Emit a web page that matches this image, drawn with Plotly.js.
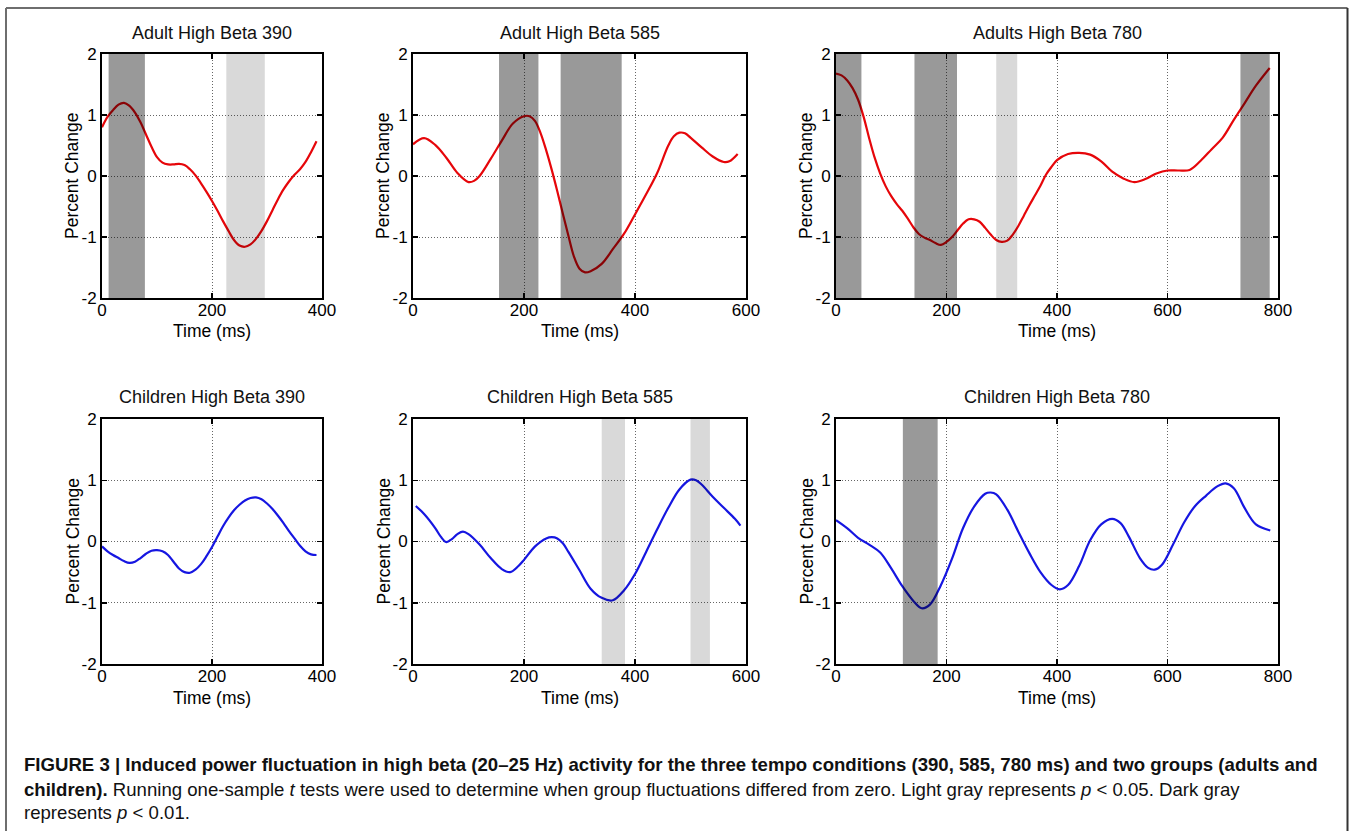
<!DOCTYPE html>
<html>
<head>
<meta charset="utf-8">
<script src="https://cdn.plot.ly/plotly-3.0.1.min.js"></script>
<style>
  html, body { margin: 0; padding: 0; background: #fff; }
  #chart { width: 1349px; height: 831px; }
</style>
</head>
<body>
<div id="chart"></div>
<script>
// ---------- Data ----------
const panelTitles = ['Adult High Beta 390', 'Adult High Beta 585', 'Adults High Beta 780',
                     'Children High Beta 390', 'Children High Beta 585', 'Children High Beta 780'];

const adult390Time   = [0,10,20,30,40,50,60,70,80,90,100,110,120,130,140,150,160,170,180,190,200,210,220,230,240,250,260,270,280,290,300,310,320,330,340,350,360,370,380,390];
const adult390Values = [0.80,0.97,1.08,1.17,1.20,1.15,1.04,0.88,0.68,0.48,0.31,0.22,0.19,0.19,0.20,0.18,0.11,0.01,-0.12,-0.26,-0.41,-0.57,-0.74,-0.90,-1.05,-1.14,-1.16,-1.12,-1.03,-0.90,-0.74,-0.56,-0.38,-0.22,-0.09,0.02,0.11,0.23,0.39,0.57];
const adult390Dark  = [[12, 78]];
const adult390Light = [[226, 296]];

const adult585Time   = [0,20,40,60,80,100,110,120,140,160,180,200,210,220,230,240,250,260,270,280,290,300,310,320,340,360,380,400,420,440,460,470,480,490,500,520,540,560,570,585];
const adult585Values = [0.52,0.62,0.51,0.30,0.05,-0.10,-0.08,0.00,0.28,0.58,0.86,0.98,0.98,0.90,0.70,0.42,0.10,-0.25,-0.62,-0.98,-1.32,-1.52,-1.58,-1.56,-1.44,-1.20,-0.95,-0.63,-0.30,0.05,0.50,0.65,0.71,0.70,0.63,0.47,0.32,0.23,0.24,0.36];
const adult585Dark  = [[155, 226], [266, 376]];
const adult585Light = [];

const adult780Time   = [0,10,20,30,40,50,60,70,80,90,100,110,120,130,140,150,160,170,180,190,200,210,220,230,240,250,260,270,280,290,300,310,320,330,340,350,360,370,380,390,400,420,440,460,480,500,520,540,560,580,600,620,640,660,680,700,720,740,760,785];
const adult780Values = [1.68,1.65,1.57,1.44,1.25,0.97,0.62,0.30,0.04,-0.17,-0.33,-0.46,-0.57,-0.70,-0.84,-0.95,-1.01,-1.05,-1.10,-1.13,-1.08,-1.00,-0.89,-0.78,-0.71,-0.71,-0.75,-0.85,-0.96,-1.05,-1.08,-1.06,-0.96,-0.82,-0.65,-0.48,-0.32,-0.16,0.02,0.15,0.26,0.36,0.38,0.35,0.24,0.07,-0.04,-0.10,-0.05,0.04,0.09,0.09,0.10,0.25,0.44,0.63,0.92,1.20,1.48,1.77];
const adult780Dark  = [[0, 46], [142, 219], [732, 785]];
const adult780Light = [[290, 328]];

const child390Time   = [0,10,20,30,40,50,60,70,80,90,100,110,120,130,140,150,160,170,180,190,200,210,220,230,240,250,260,270,280,290,300,310,320,330,340,350,360,370,380,390];
const child390Values = [-0.08,-0.16,-0.22,-0.27,-0.32,-0.35,-0.33,-0.27,-0.20,-0.15,-0.14,-0.16,-0.22,-0.33,-0.44,-0.50,-0.51,-0.46,-0.37,-0.24,-0.09,0.08,0.25,0.39,0.51,0.60,0.67,0.71,0.72,0.69,0.62,0.53,0.42,0.30,0.17,0.05,-0.07,-0.16,-0.21,-0.22];
const child390Dark  = [];
const child390Light = [];

const child585Time   = [5,20,40,50,60,70,80,90,100,120,140,160,175,190,200,220,240,250,260,270,280,300,320,340,360,380,400,420,440,460,480,500,510,520,540,560,580,590];
const child585Values = [0.58,0.45,0.22,0.08,-0.01,0.04,0.12,0.16,0.12,-0.05,-0.27,-0.45,-0.50,-0.40,-0.30,-0.08,0.05,0.07,0.05,-0.03,-0.17,-0.47,-0.77,-0.92,-0.96,-0.80,-0.53,-0.17,0.20,0.55,0.85,1.01,1.00,0.93,0.73,0.55,0.37,0.26];
const child585Dark  = [];
const child585Light = [[340, 382], [500, 535]];

const child780Time   = [0,20,40,60,80,100,120,140,155,170,190,210,230,250,270,280,290,310,330,350,370,390,405,420,440,460,480,500,515,530,550,565,577,590,610,630,650,670,690,705,720,740,760,786];
const child780Values = [0.35,0.22,0.06,-0.05,-0.18,-0.44,-0.73,-0.97,-1.09,-1.03,-0.71,-0.28,0.22,0.57,0.78,0.80,0.77,0.52,0.16,-0.19,-0.50,-0.71,-0.78,-0.71,-0.40,0.02,0.28,0.37,0.30,0.08,-0.27,-0.43,-0.46,-0.38,-0.05,0.31,0.58,0.75,0.90,0.95,0.87,0.54,0.28,0.18];
const child780Dark  = [[121, 184]];
const child780Light = [];

const xTickValues = [[0,200,400], [0,200,400,600], [0,200,400,600,800]];
const yTickValues = [-2,-1,0,1,2];
const yTickLabels = ['-2','-1','0','1','2'];
const xAxisTitle = 'Time (ms)';
const yAxisTitle = 'Percent Change';

const captionLine1 = '<b>FIGURE 3 | Induced power fluctuation in high beta (20–25 Hz) activity for the three tempo conditions (390, 585, 780 ms) and two groups (adults and</b>';
const captionLine2 = '<b>children).</b> Running one-sample <i>t</i> tests were used to determine when group fluctuations differed from zero. Light gray represents <i>p</i> &lt; 0.05. Dark gray';
const captionLine3 = 'represents <i>p</i> &lt; 0.01.';

// ---------- Styling / layout ----------
const W = 1349, H = 831;
const RED = 'rgb(230,6,10)';
const BLUE = 'rgb(22,22,225)';
// translucent overlays (drawn over the curves, which darkens them inside the bands)
const DARK = 'rgba(0,0,0,0.40)';
const LIGHT = 'rgba(0,0,0,0.15)';
const FONT = 'Liberation Sans, Arial, Helvetica, sans-serif';

const colDomains = [[102/W, 322/W], [413/W, 746/W], [836/W, 1278/W]];
const rowDomains = [[1 - 298/H, 1 - 54/H], [1 - 664/H, 1 - 419/H]];
const rowTitleY = [33, 397];
const rowXTitleY = [331, 698];
const yTitleOffset = 30; // px left of the plot edge

const panels = [
  {x: adult390Time, y: adult390Values, color: RED,  dark: adult390Dark, light: adult390Light, col: 0, row: 0},
  {x: adult585Time, y: adult585Values, color: RED,  dark: adult585Dark, light: adult585Light, col: 1, row: 0},
  {x: adult780Time, y: adult780Values, color: RED,  dark: adult780Dark, light: adult780Light, col: 2, row: 0},
  {x: child390Time, y: child390Values, color: BLUE, dark: child390Dark, light: child390Light, col: 0, row: 1},
  {x: child585Time, y: child585Values, color: BLUE, dark: child585Dark, light: child585Light, col: 1, row: 1},
  {x: child780Time, y: child780Values, color: BLUE, dark: child780Dark, light: child780Light, col: 2, row: 1}
];

const traces = [];
const shapes = [];
const annotations = [];
const layout = {
  width: W, height: H,
  margin: {l: 0, r: 0, t: 0, b: 0},
  paper_bgcolor: '#fff', plot_bgcolor: '#fff',
  showlegend: false,
  font: {family: FONT, size: 17, color: '#000'}
};

panels.forEach((p, i) => {
  const n = i === 0 ? '' : String(i + 1);
  const xa = 'x' + n, ya = 'y' + n;
  traces.push({
    type: 'scatter', mode: 'lines', x: p.x, y: p.y,
    xaxis: xa, yaxis: ya,
    line: {color: p.color, width: 2.2, shape: 'spline', smoothing: 1},
    hoverinfo: 'skip'
  });
  const ticks = xTickValues[p.col];
  const axisCommon = {
    showline: true, linecolor: '#000', linewidth: 2, mirror: 'ticks',
    ticks: 'inside', ticklen: 5, tickwidth: 1.5, tickcolor: '#000',
    showgrid: true, gridcolor: 'rgba(0,0,0,0.6)', griddash: '1px,2px', gridwidth: 1,
    zeroline: false, fixedrange: true,
    tickfont: {family: FONT, size: 17, color: '#000'}
  };
  layout['xaxis' + n] = Object.assign({}, axisCommon, {
    domain: colDomains[p.col], anchor: ya,
    range: [0, ticks[ticks.length - 1]], tickvals: ticks,
    ticklabelstandoff: -4
  });
  layout['yaxis' + n] = Object.assign({}, axisCommon, {
    domain: rowDomains[p.row], anchor: xa,
    range: [-2, 2], tickvals: yTickValues, ticktext: yTickLabels,
    ticklabelstandoff: 0
  });
  p.dark.forEach(b => shapes.push({type: 'rect', xref: xa, yref: ya + ' domain', x0: b[0], x1: b[1], y0: 0, y1: 1,
    fillcolor: DARK, line: {width: 0}, layer: 'above'}));
  p.light.forEach(b => shapes.push({type: 'rect', xref: xa, yref: ya + ' domain', x0: b[0], x1: b[1], y0: 0, y1: 1,
    fillcolor: LIGHT, line: {width: 0}, layer: 'above'}));
  const d = colDomains[p.col];
  const r = rowDomains[p.row];
  // panel title
  annotations.push({
    text: panelTitles[i], xref: 'paper', yref: 'paper',
    x: (d[0] + d[1]) / 2, y: 1 - rowTitleY[p.row]/H,
    xanchor: 'center', yanchor: 'middle', showarrow: false,
    font: {family: FONT, size: 18, color: '#111'}
  });
  // x axis title
  annotations.push({
    text: xAxisTitle, xref: 'paper', yref: 'paper',
    x: (d[0] + d[1]) / 2, y: 1 - rowXTitleY[p.row]/H,
    xanchor: 'center', yanchor: 'middle', showarrow: false,
    font: {family: FONT, size: 17.5, color: '#000'}
  });
  // y axis title
  annotations.push({
    text: yAxisTitle, xref: 'paper', yref: 'paper', textangle: -90,
    x: d[0] - yTitleOffset/W, y: (r[0] + r[1]) / 2,
    xanchor: 'center', yanchor: 'middle', showarrow: false,
    font: {family: FONT, size: 17.5, color: '#000'}
  });
});

// Caption
[[captionLine1, 764], [captionLine2, 789], [captionLine3, 812]].forEach(c => {
  annotations.push({
    text: c[0], xref: 'paper', yref: 'paper', x: 22/W, y: 1 - c[1]/H,
    xanchor: 'left', yanchor: 'middle', showarrow: false, align: 'left',
    font: {family: FONT, size: 18.6, color: '#111'}
  });
});

// Outer frame of the figure
const FRAME = 'rgb(110,110,110)';
shapes.push({type: 'line', xref: 'paper', yref: 'paper', x0: 6/W, x1: 1347.5/W, y0: 1 - 8/H, y1: 1 - 8/H, line: {color: FRAME, width: 2}});
shapes.push({type: 'line', xref: 'paper', yref: 'paper', x0: 6/W, x1: 6/W, y0: 0, y1: 1 - 8/H, line: {color: FRAME, width: 2}});
shapes.push({type: 'line', xref: 'paper', yref: 'paper', x0: 1347.5/W, x1: 1347.5/W, y0: 0, y1: 1 - 8/H, line: {color: '#333', width: 2}});

layout.shapes = shapes;
layout.annotations = annotations;

Plotly.newPlot('chart', traces, layout, {displayModeBar: false, staticPlot: true});
</script>
</body>
</html>
